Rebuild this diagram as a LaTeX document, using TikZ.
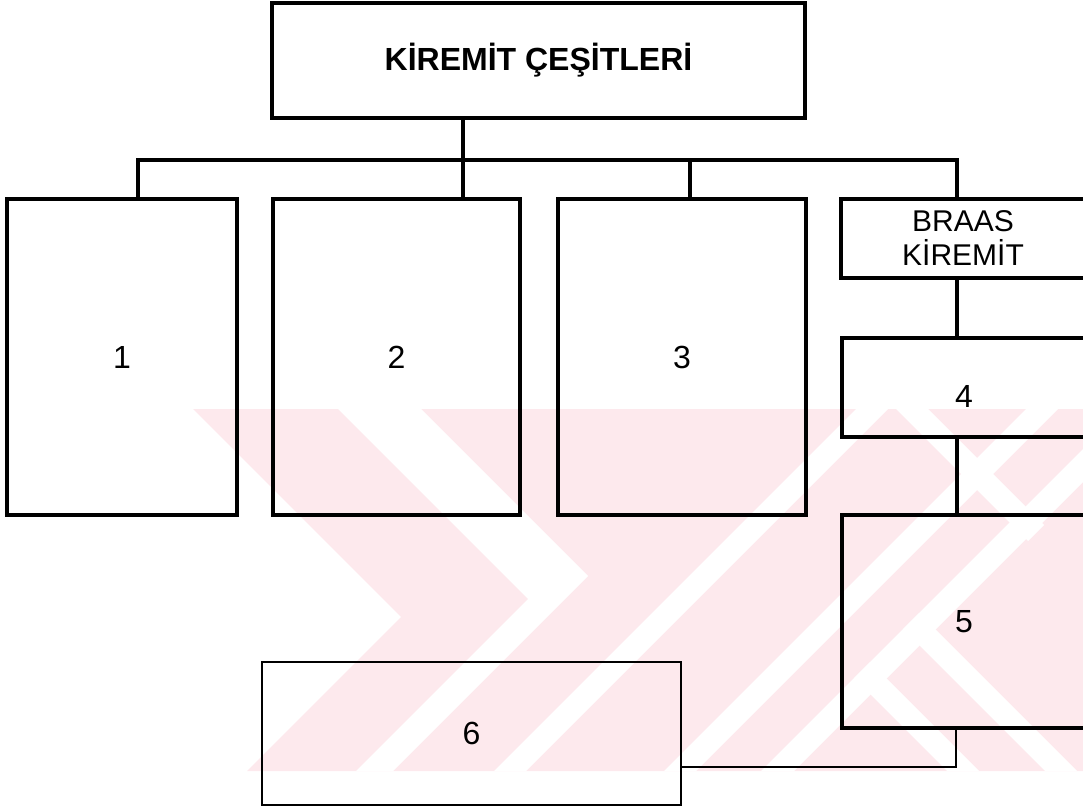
\documentclass[tikz,border=0pt]{standalone}
\usepackage{fontspec}
\setmainfont{Liberation Sans}
\definecolor{wm}{RGB}{253,233,237}
\tikzset{
  box/.style={draw, line width=3.3pt, rectangle, inner sep=0pt, outer sep=0pt, font=\fontsize{32}{38}\selectfont, align=center},
  thinbox/.style={box, line width=1.4pt},
  conn/.style={line width=3.2pt},
  thinconn/.style={line width=1.4pt},
}
\begin{document}
\begin{tikzpicture}[x=1pt,y=-1pt]
\useasboundingbox (0,0) rectangle (1083,810);
\clip (0,0) rectangle (1083,810);
% watermark (approximate logo of 45-degree stripes)
\begin{scope}
\clip (193,409) -- (1083,409) -- (1083,771) -- (247,771) -- (401,617) -- cycle;
\fill[wm] (0,0) rectangle (1083,810);
\fill[white] (338,409) -- (528,599) -- (356,771) -- (393,771) -- (588,576) -- (421,409) -- cycle;
\fill[white] (856,409) -- (888,409) -- (526,771) -- (494,771) -- cycle;
\fill[white] (1026,409) -- (1058,409) -- (696,771) -- (664,771) -- cycle;
\fill[white] (1123,409) -- (1156,409) -- (794,771) -- (761,771) -- cycle;
\fill[white] (854,678) -- (870,662) -- (979,771) -- (947,771) -- cycle;
\fill[white] (903,629) -- (919,613) -- (1077,771) -- (1045,771) -- cycle;
\fill[white] (896,409) -- (928,409) -- (1044,525) -- (1028,541) -- cycle;
\end{scope}
% nodes
\node[box, minimum width=533, minimum height=115, font=\bfseries\fontsize{32}{38}\selectfont] (title) at (538.5,60.5) {KİREMİT ÇEŞİTLERİ};
\node[box, minimum width=230, minimum height=316] (b1) at (122,357) {1};
\node[box, minimum width=247, minimum height=316] (b2) at (396.5,357) {2};
\node[box, minimum width=248, minimum height=316] (b3) at (682,357) {3};
\node[box, minimum width=244, minimum height=79, font=\fontsize{30}{34}\selectfont] (braas) at (963,238.5) {BRAAS\\[0pt]KİREMİT};
\node[box, minimum width=244, minimum height=99, label={[yshift=-9pt, font=\fontsize{32}{38}\selectfont]center:4}] (b4) at (964,387.5) {};
\node[box, minimum width=244, minimum height=213] (b5) at (964,621.5) {5};
\node[thinbox, minimum width=419, minimum height=143] (b6) at (471.5,733.5) {6};
% connectors
\coordinate (j1) at (138,160);
\coordinate (j2) at (463,160);
\coordinate (j3) at (690,160);
\coordinate (j4) at (957,160);
\coordinate (k) at (956,767);
\draw[conn] (title.south -| j2) -- (j2);
\draw[conn] (b1.north -| j1) -- (j1) -- (j4) -- (braas.north -| j4);
\draw[conn] (j2) -- (b2.north -| j2);
\draw[conn] (j3) -- (b3.north -| j3);
\draw[conn] (braas.south -| j4) -- (b4.north -| j4);
\draw[conn] (b4.south -| j4) -- (b5.north -| j4);
\draw[thinconn] (b5.south -| k) -- (k) -- (b6.east |- k);
\end{tikzpicture}
\end{document}
